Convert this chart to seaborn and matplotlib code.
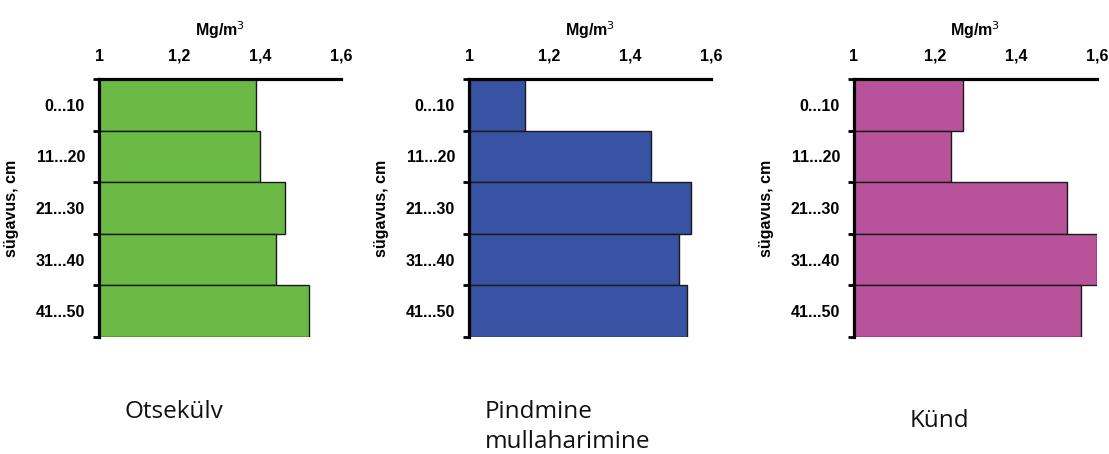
import matplotlib
matplotlib.use("Agg")
import matplotlib.pyplot as plt
import numpy as np
import pandas as pd
import seaborn as sns

# Bulk density by depth layer for three tillage systems
depths = ["0...10", "11...20", "21...30", "31...40", "41...50"]
otsekulv = [1.39, 1.40, 1.46, 1.44, 1.52]
pindmine = [1.14, 1.45, 1.55, 1.52, 1.54]
kund = [1.27, 1.24, 1.525, 1.60, 1.56]

captions = ["Otsekülv", "Pindmine\nmullaharimine", "Künd"]
colors = ["#6aba45", "#3853a4", "#b8539b"]
xticks = [1.0, 1.2, 1.4, 1.6]
xticklabels = ["1", "1,2", "1,4", "1,6"]
unit_label = "Mg/m$^3$"
depth_label = "sügavus, cm"

sns.set_theme(style="white")
plt.rcParams["font.family"] = ["Liberation Sans", "DejaVu Sans"]
plt.rcParams["text.color"] = "black"
plt.rcParams["axes.labelcolor"] = "black"
plt.rcParams["xtick.color"] = "black"
plt.rcParams["ytick.color"] = "black"

fig = plt.figure(figsize=(11.09, 4.54), dpi=100)
W, H = 1109, 454
lefts = [99, 469, 854]
widths = [242, 242, 243]
top_px, bot_px = 79, 337

series = [otsekulv, pindmine, kund]
caption_pos = [(125, 418), (485, 418), (910, 427)]
caption_line_px = 30

for i, (vals, col) in enumerate(zip(series, colors)):
    ax = fig.add_axes([lefts[i] / W, (H - bot_px) / H,
                       widths[i] / W, (bot_px - top_px) / H])
    df = pd.DataFrame({"depth": depths, "density": vals})
    sns.barplot(data=df, x="density", y="depth", orient="h", ax=ax,
                color=col, saturation=1, width=1.0,
                edgecolor="#1a1a1a", linewidth=1.0)
    ax.set_xlim(1.0, 1.6)
    ax.set_ylim(len(depths) - 0.5, -0.5)

    # value axis on top
    ax.xaxis.set_ticks_position("top")
    ax.xaxis.set_label_position("top")
    ax.set_xticks(xticks)
    ax.set_xticklabels(xticklabels, fontsize=11.5, fontweight="bold")
    ax.tick_params(axis="x", length=0, pad=11)
    ax.set_xlabel(unit_label, fontsize=11.5, fontweight="bold", labelpad=9)

    # depth axis: labels at layer centres, ticks at layer boundaries
    ax.set_yticks(np.arange(len(depths)))
    ax.set_yticklabels(depths, fontsize=11.5, fontweight="bold")
    ax.tick_params(axis="y", which="major", length=0, pad=10)
    ax.set_yticks(np.arange(len(depths) + 1) - 0.5, minor=True)
    ax.tick_params(axis="y", which="minor", length=4, width=2,
                   color="black", direction="out", left=True)
    ax.set_ylabel(depth_label, fontsize=11.5, fontweight="bold")
    ax.yaxis.set_label_coords(-0.33, 0.5)

    for side in ["right", "bottom"]:
        ax.spines[side].set_visible(False)
    for side in ["top", "left"]:
        ax.spines[side].set_visible(True)
        ax.spines[side].set_color("black")
        ax.spines[side].set_linewidth(2.3)
    ax.grid(False)

    cx, cy = caption_pos[i]
    for k, line in enumerate(captions[i].split("\n")):
        fig.text(cx / W, 1 - (cy + k * caption_line_px) / H, line,
                 fontsize=17.5, family=["Open Sans", "DejaVu Sans"],
                 ha="left", va="baseline", color="#111111")

fig.savefig("out.png", dpi=100)
